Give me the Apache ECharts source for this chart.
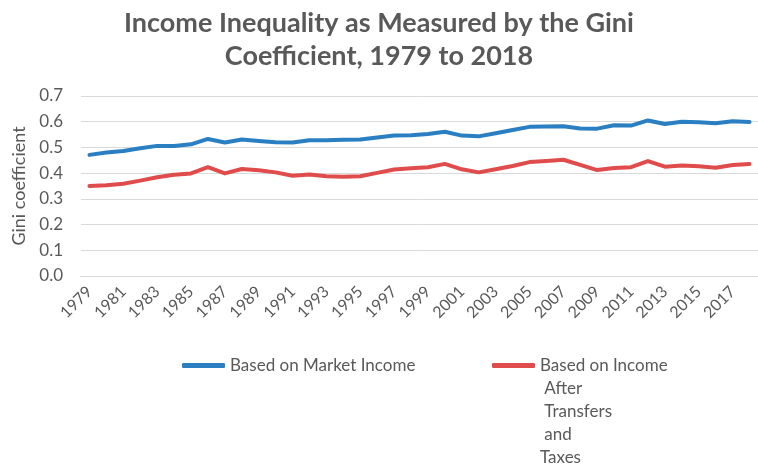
<!DOCTYPE html>
<html>
<head>
<meta charset="utf-8">
<script src="https://cdn.jsdelivr.net/npm/echarts@6/dist/echarts.min.js"></script>
<style>
html,body{margin:0;padding:0;background:#fff;overflow:hidden;}
#chart{width:758px;height:466px;}
</style>
</head>
<body>
<div id="chart"></div>
<script>
var years = [];
for (var y = 1979; y <= 2018; y++) years.push(String(y));

var marketIncome = [0.471,0.480,0.486,0.497,0.506,0.506,0.512,0.533,0.519,0.531,
                    0.525,0.520,0.519,0.528,0.528,0.530,0.531,0.539,0.546,0.547,
                    0.552,0.561,0.546,0.543,0.555,0.568,0.580,0.581,0.582,0.574,
                    0.573,0.586,0.585,0.605,0.591,0.600,0.598,0.594,0.602,0.599];

var afterTransfers = [0.350,0.353,0.359,0.371,0.384,0.394,0.399,0.423,0.399,0.416,
                      0.411,0.403,0.390,0.395,0.388,0.386,0.388,0.401,0.414,0.419,
                      0.423,0.436,0.415,0.403,0.415,0.428,0.443,0.447,0.452,0.432,
                      0.412,0.420,0.423,0.447,0.425,0.430,0.427,0.421,0.432,0.436];

var yTicks = [0.0,0.1,0.2,0.3,0.4,0.5,0.6,0.7];

var nameA = 'Based on Market Income';
var nameB = 'Based on Income After Transfers and Taxes';

var font = 'Lato, "Open Sans", sans-serif';
var grey = '#595959';

var chart = echarts.init(document.getElementById('chart'));
chart.setOption({
  animation: false,
  backgroundColor: '#fff',
  title: {
    text: 'Income Inequality as Measured by the Gini\nCoefficient, 1979 to 2018',
    left: 'center',
    top: 2,
    padding: [5, 5, 5, 29],
    textStyle: {fontFamily: font, fontWeight: 'bold', fontSize: 27, color: grey, lineHeight: 33}
  },
  legend: [{
    data: [nameA],
    left: 177,
    top: 349,
    icon: 'roundRect',
    itemWidth: 43,
    itemHeight: 5,
    textStyle: {fontFamily: font, fontSize: 17, color: grey, lineHeight: 23}
  }, {
    data: [nameB],
    left: 487,
    top: 257,
    icon: 'roundRect',
    itemWidth: 43,
    itemHeight: 5,
    formatter: function () { return '\n\n\n\nBased on Income\n After\n Transfers\n and\nTaxes'; },
    textStyle: {fontFamily: font, fontSize: 17, color: grey, lineHeight: 23}
  }],
  grid: {left: 81, top: 96, width: 688, bottom: 190},
  xAxis: {
    type: 'category',
    data: years,
    boundaryGap: true,
    axisLine: {show: true, lineStyle: {color: '#d9d9d9', width: 1}},
    axisTick: {show: false},
    axisLabel: {interval: 1, rotate: 45, fontFamily: font, fontSize: 16, color: grey, margin: 13}
  },
  yAxis: {
    type: 'value',
    min: yTicks[0],
    max: yTicks[yTicks.length - 1],
    interval: 0.1,
    name: 'Gini coefficient',
    nameLocation: 'middle',
    nameRotate: 90,
    nameGap: 48,
    nameTextStyle: {fontFamily: font, fontSize: 18, color: grey},
    axisLine: {show: false},
    axisTick: {show: false},
    splitLine: {lineStyle: {color: '#d9d9d9', width: 1}},
    axisLabel: {fontFamily: font, fontSize: 17, color: grey, margin: 18,
      formatter: function (v) { return v.toFixed(1); }}
  },
  series: [{
    name: nameA,
    type: 'line',
    data: marketIncome,
    showSymbol: false,
    symbol: 'none',
    lineStyle: {color: '#2a7fc2', width: 4, cap: 'round', join: 'round'},
    itemStyle: {color: '#2a7fc2'}
  }, {
    name: nameB,
    type: 'line',
    data: afterTransfers,
    showSymbol: false,
    symbol: 'none',
    lineStyle: {color: '#e04b4b', width: 4, cap: 'round', join: 'round'},
    itemStyle: {color: '#e04b4b'}
  }]
});
</script>
</body>
</html>
